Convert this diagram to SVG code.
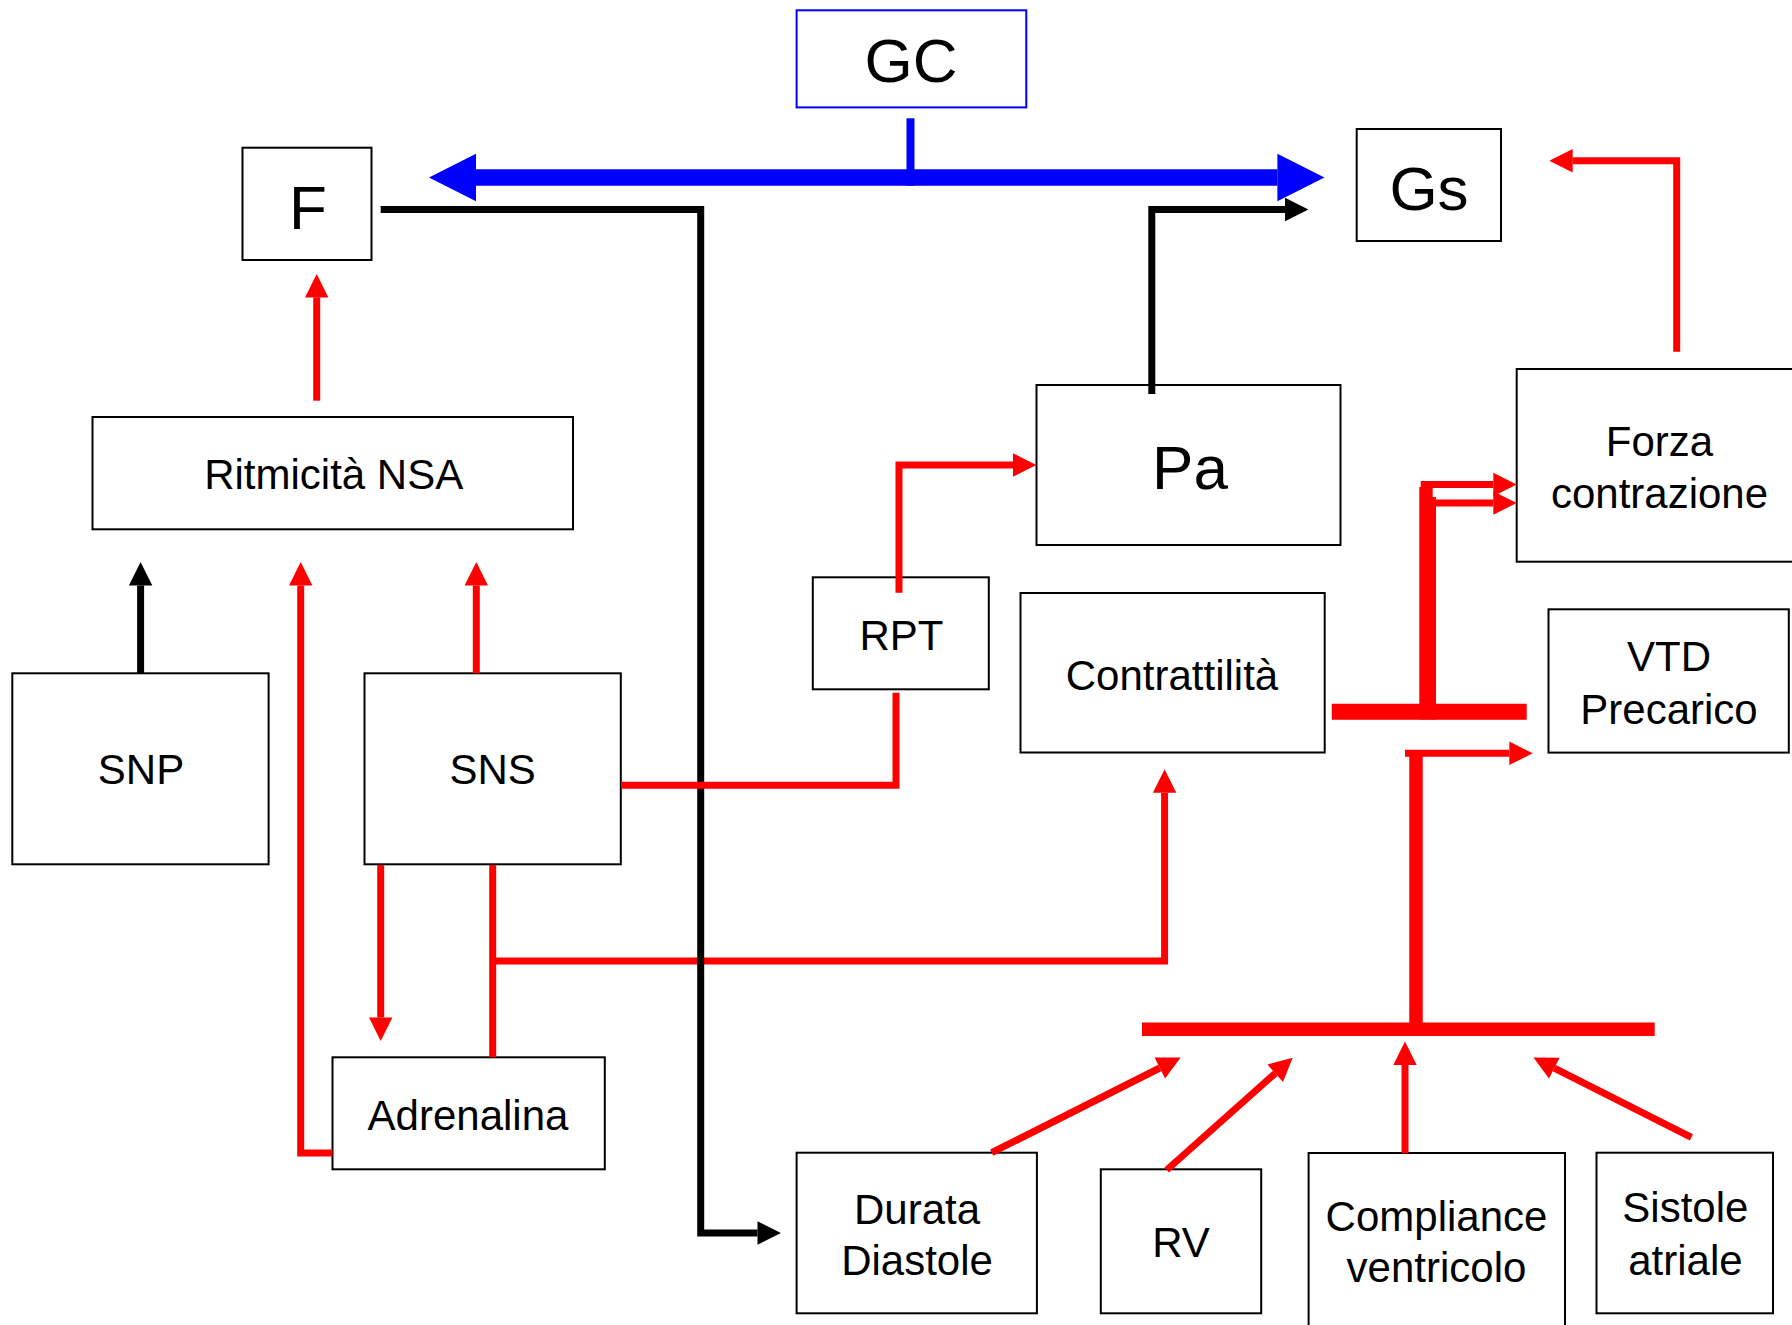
<svg xmlns="http://www.w3.org/2000/svg" width="1792" height="1325" viewBox="0 0 1792 1325">
<style>
.box{fill:#fff;stroke:#000;stroke-width:2}
.gcbox{fill:#fff;stroke:#0000ff;stroke-width:2}
.t{font-family:"Liberation Sans",Arial,sans-serif;fill:#000;text-anchor:middle}
.big{font-size:62px}
.md{font-size:42px}
.r{fill:none;stroke:#ff0000;stroke-width:7;stroke-linejoin:miter;stroke-linecap:butt}
.k{fill:none;stroke:#000;stroke-width:7;stroke-linejoin:miter;stroke-linecap:butt}
.ra{marker-end:url(#ahr)}
.ka{marker-end:url(#ahk)}
</style>
<defs>
<marker id="ahr" markerUnits="userSpaceOnUse" viewBox="0 -12 24 24" refX="0" refY="0" markerWidth="24" markerHeight="24" orient="auto" overflow="visible"><path d="M0,-11.7 L23.4,0 L0,11.7 Z" fill="#ff0000"/></marker>
<marker id="ahk" markerUnits="userSpaceOnUse" viewBox="0 -12 24 24" refX="0" refY="0" markerWidth="24" markerHeight="24" orient="auto" overflow="visible"><path d="M0,-11.7 L23.4,0 L0,11.7 Z" fill="#000"/></marker>
<marker id="ahb" markerUnits="userSpaceOnUse" viewBox="0 -24 47 48" refX="0" refY="0" markerWidth="47" markerHeight="48" orient="auto-start-reverse" overflow="visible"><path d="M0,-23.8 L47,0 L0,23.8 Z" fill="#0000ff"/></marker>
</defs>

<g id="nodes">
<g id="node-GC"><rect class="gcbox" x="796.6" y="10.3" width="229.7" height="97.1"/><text class="t big" x="911" y="82">GC</text></g>
<g id="node-F"><rect class="box" x="242.5" y="147.7" width="129" height="112.3"/><text class="t big" x="308" y="229">F</text></g>
<g id="node-Gs"><rect class="box" x="1356.7" y="129" width="144.3" height="112"/><text class="t big" x="1429" y="210">Gs</text></g>
<g id="node-Pa"><rect class="box" x="1036.5" y="385" width="304" height="160"/><text class="t big" x="1190" y="489">Pa</text></g>
<g id="node-Forza"><rect class="box" x="1516.7" y="369" width="290" height="192.7"/><text class="t md" x="1659.5" y="456">Forza</text><text class="t md" x="1659.5" y="507.5">contrazione</text></g>
<g id="node-Ritmicita"><rect class="box" x="92.5" y="417" width="480.5" height="112.3"/><text class="t md" x="333.7" y="488.5">Ritmicità NSA</text></g>
<g id="node-RPT"><rect class="box" x="812.8" y="577.3" width="176" height="112"/><text class="t md" x="901.4" y="650">RPT</text></g>
<g id="node-Contrattilita"><rect class="box" x="1020.5" y="593" width="304.2" height="159.5"/><text class="t md" x="1172" y="689.5">Contrattilità</text></g>
<g id="node-VTD"><rect class="box" x="1548.5" y="609.3" width="240.3" height="143.3"/><text class="t md" x="1669" y="671">VTD</text><text class="t md" x="1669" y="723.5">Precarico</text></g>
<g id="node-SNP"><rect class="box" x="12.3" y="673.3" width="256.3" height="191"/><text class="t md" x="141" y="784">SNP</text></g>
<g id="node-SNS"><rect class="box" x="364.5" y="673.3" width="256.3" height="191"/><text class="t md" x="492.6" y="784">SNS</text></g>
<g id="node-Adrenalina"><rect class="box" x="332.5" y="1057.3" width="272.3" height="112"/><text class="t md" x="468" y="1129.5">Adrenalina</text></g>
<g id="node-Durata"><rect class="box" x="796.6" y="1152.7" width="240.3" height="160.6"/><text class="t md" x="917" y="1223.5">Durata</text><text class="t md" x="917" y="1275">Diastole</text></g>
<g id="node-RV"><rect class="box" x="1100.8" y="1169.3" width="160.4" height="144"/><text class="t md" x="1181" y="1257">RV</text></g>
<g id="node-Compliance"><rect class="box" x="1308.6" y="1153" width="256.4" height="190"/><text class="t md" x="1436.5" y="1231">Compliance</text><text class="t md" x="1436.5" y="1282">ventricolo</text></g>
<g id="node-Sistole"><rect class="box" x="1596.5" y="1152.7" width="176.5" height="160.6"/><text class="t md" x="1685.4" y="1222">Sistole</text><text class="t md" x="1685.4" y="1275">atriale</text></g>
</g>

<g id="connectors">
<!-- blue GC -->
<line x1="476" y1="177.5" x2="1277.4" y2="177.5" stroke="#0000ff" stroke-width="16.3" marker-start="url(#ahb)" marker-end="url(#ahb)"/>
<line x1="910.5" y1="118.3" x2="910.5" y2="185.7" stroke="#0000ff" stroke-width="8"/>
<!-- SNS to Contrattilita branch (under black) -->
<path class="r ra" d="M492.7,961 H1164.6 V792.7"/>
<!-- black -->
<path class="k ka" d="M380.7,209.5 H700.7 V1233 H757.5"/>
<path class="k ka" d="M1151.8,394 V209.5 H1285"/>
<path class="k ka" d="M140.6,673.3 V585.5"/>
<!-- red -->
<path class="r ra" d="M316.7,400.7 V297.4"/>
<path class="r ra" d="M332.5,1153 H300.7 V585.5"/>
<path class="r ra" d="M476.3,673.3 V585.5"/>
<path class="r ra" d="M380.7,865 V1017.6"/>
<path class="r" d="M492.7,1057.3 V865"/>
<path class="r" d="M621,785.3 H896 V692.7"/>
<path class="r ra" d="M899,592.7 V465 H1013"/>
<path class="r ra" d="M1676.7,351.7 V160.7 H1572.7"/>
<!-- upper bar to Forza -->
<line x1="1331.8" y1="711.7" x2="1526.7" y2="711.7" stroke="#ff0000" stroke-width="16"/>
<path d="M1419.3,719.5 V487 H1432.7 V497 H1436 V719.5 Z" fill="#ff0000"/>
<path class="r ra" d="M1420.7,484.5 H1493.3"/>
<path class="r ra" d="M1432.7,503 H1493.3"/>
<!-- lower bar to VTD -->
<line x1="1142" y1="1029.3" x2="1654.7" y2="1029.3" stroke="#ff0000" stroke-width="13.5"/>
<line x1="1416" y1="1029.3" x2="1416" y2="756" stroke="#ff0000" stroke-width="13.5"/>
<path class="r ra" d="M1405,753.3 H1509.3"/>
<!-- into lower bar -->
<path class="r ra" d="M991.7,1152.7 L1159.8,1068"/>
<path class="r ra" d="M1166.7,1170 L1275.2,1073.3"/>
<path class="r ra" d="M1405,1153.3 V1065"/>
<path class="r ra" d="M1691.4,1137.3 L1554.3,1068.1"/>
</g>
</svg>
